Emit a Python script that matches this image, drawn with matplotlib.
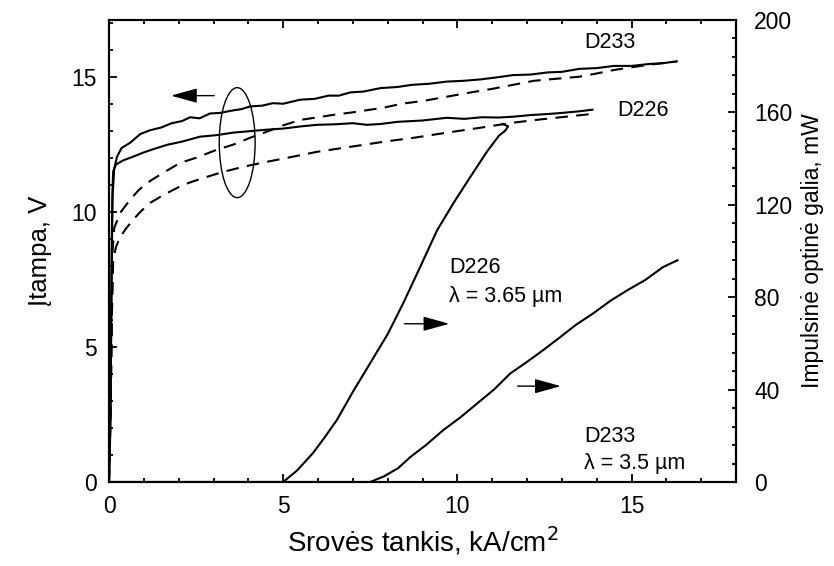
import matplotlib
matplotlib.use('Agg')
import matplotlib.pyplot as plt
from matplotlib.patches import Ellipse
from matplotlib.ticker import MultipleLocator

plt.rcParams['font.family'] = ['Liberation Sans', 'DejaVu Sans']

# U-I kreivės (srovės tankis kA/cm2, įtampa V)
d233_j = [0, 0.04, 0.06, 0.08, 0.1, 0.15, 0.23, 0.36, 0.6, 0.9, 1.18, 1.5, 1.8, 2.1, 2.33, 2.6,
          2.9, 3.19, 3.5, 3.8, 4.05, 4.4, 4.7, 5.0, 5.49, 5.9, 6.3, 6.6, 6.93, 7.3, 7.8, 8.28,
          8.7, 9.2, 9.7, 10.2, 10.66, 11.1, 11.6, 12.1, 12.6, 13.0, 13.5, 14.0, 14.5, 15.0,
          15.5, 15.9, 16.3]
d233_u = [0, 2.0, 5.0, 8.0, 10.5, 11.6, 12.04, 12.36, 12.55, 12.88, 13.02, 13.12, 13.28, 13.36,
          13.5, 13.46, 13.64, 13.66, 13.74, 13.8, 13.9, 13.93, 14.02, 14.0, 14.15, 14.18,
          14.3, 14.3, 14.42, 14.45, 14.58, 14.62, 14.7, 14.74, 14.82, 14.85, 14.9, 14.97,
          15.06, 15.08, 15.16, 15.18, 15.29, 15.32, 15.4, 15.4, 15.47, 15.5, 15.57]

d233_j_pulse = [0, 0.05, 0.08, 0.1, 0.15, 0.32, 0.6, 0.85, 1.09, 1.5, 2.04, 2.5, 3.1, 3.6,
                4.05, 4.5, 5.0, 5.49, 6.0, 6.5, 6.93, 7.4, 7.87, 8.4, 9.0, 9.7, 10.3, 11.0,
                11.6, 12.2, 12.8, 13.5, 14.0, 14.5, 15.0, 15.5, 16.0, 16.3]
d233_u_pulse = [0, 3.0, 6.0, 8.5, 9.4, 9.96, 10.44, 10.8, 11.07, 11.4, 11.81, 12.0, 12.3,
                12.5, 12.74, 12.95, 13.2, 13.4, 13.5, 13.6, 13.67, 13.76, 13.85, 14.0, 14.1,
                14.26, 14.4, 14.55, 14.7, 14.85, 14.92, 15.0, 15.12, 15.25, 15.35, 15.44,
                15.52, 15.56]

d226_j = [0, 0.04, 0.06, 0.08, 0.1, 0.12, 0.2, 0.4, 0.69, 1.0, 1.3, 1.67, 2.1, 2.61, 3.1,
          3.56, 4.0, 4.53, 5.0, 5.5, 5.97, 6.5, 7.0, 7.4, 7.79, 8.28, 9.0, 9.7, 10.2, 10.7,
          11.2, 11.6, 12.1, 12.6, 13.0, 13.5, 13.88]
d226_u = [0, 2.5, 6.0, 9.0, 10.8, 11.5, 11.75, 11.9, 12.04, 12.2, 12.33, 12.48, 12.6, 12.78,
          12.84, 12.93, 12.98, 13.04, 13.08, 13.16, 13.22, 13.24, 13.28, 13.22, 13.25,
          13.33, 13.38, 13.48, 13.44, 13.5, 13.49, 13.52, 13.58, 13.62, 13.66, 13.72, 13.78]

d226_j_pulse = [0, 0.05, 0.08, 0.12, 0.2, 0.32, 0.5, 0.69, 0.9, 1.18, 1.6, 2.13, 2.7, 3.28,
                3.9, 4.53, 5.2, 5.97, 6.9, 7.87, 8.8, 9.7, 10.6, 11.6, 12.6, 13.7, 13.85]
d226_u_pulse = [0, 3.0, 6.0, 8.2, 8.7, 9.07, 9.4, 9.7, 10.0, 10.33, 10.65, 11.0, 11.25,
                11.48, 11.68, 11.85, 12.02, 12.22, 12.4, 12.59, 12.75, 12.93, 13.1, 13.3,
                13.45, 13.6, 13.62]

# L-I kreivės (srovės tankis kA/cm2, galia mW)
li226_j = [0, 5.0, 5.4, 5.86, 6.2, 6.54, 7.0, 7.5, 8.0, 8.45, 8.9, 9.42, 9.9, 10.37, 10.85,
           11.2, 11.37, 11.46, 11.29]
li226_p = [0, 0, 5, 12.6, 19.5, 26.8, 39, 51.5, 64, 77.5, 92, 109, 121, 132, 143, 150, 152,
           154, 155]
li233_j = [0, 7.5, 7.9, 8.3, 8.65, 9.1, 9.6, 10.09, 10.57, 11.05, 11.52, 12.0, 12.5, 12.96,
           13.4, 13.9, 14.4, 14.88, 15.4, 15.9, 16.32]
li233_p = [0, 0, 2.5, 6, 10.8, 16, 22.5, 28, 34, 40, 47, 52, 57.5, 62.8, 68, 73, 78.5, 83,
           87.5, 93, 96]

fig = plt.figure(figsize=(8.34, 5.66), dpi=100)
ax = fig.add_axes([0.1307, 0.1484, 0.7518, 0.8163])
ax2 = ax.twinx()

lw = 1.5
dash = (0, (6, 4))
ax.plot(d233_j, d233_u, color='black', lw=lw)
ax.plot(d233_j_pulse, d233_u_pulse, color='black', lw=lw, linestyle=dash)
ax.plot(d226_j, d226_u, color='black', lw=lw)
ax.plot(d226_j_pulse, d226_u_pulse, color='black', lw=lw, linestyle=dash)

ax2.plot(li226_j, li226_p, color='black', lw=lw)
ax2.plot(li233_j, li233_p, color='black', lw=lw)

ax.set_xlim(0, 18)
ax.set_ylim(0, 17.1)
ax2.set_ylim(0, 200)

ax.xaxis.set_major_locator(MultipleLocator(5))
ax.xaxis.set_minor_locator(MultipleLocator(1))
ax.yaxis.set_major_locator(MultipleLocator(5))
ax.yaxis.set_minor_locator(MultipleLocator(1))
ax2.yaxis.set_major_locator(MultipleLocator(40))
ax2.yaxis.set_minor_locator(MultipleLocator(8))

ax.tick_params(which='both', direction='in', top=True, right=False, width=1.3,
               labelsize=16.5)
ax.tick_params(axis='x', which='major', length=6, pad=9)
ax.tick_params(axis='y', which='major', length=6, pad=9)
ax.tick_params(which='minor', length=3)
ax2.tick_params(which='both', direction='in', width=1.3, labelsize=16.5)
ax2.tick_params(which='major', length=6, pad=13)
ax2.tick_params(which='minor', length=3)
for a in (ax, ax2):
    for s in a.spines.values():
        s.set_linewidth(1.5)

ax.set_xlabel('Srovės tankis, kA/cm$^2$', fontsize=20, labelpad=5)
ax.set_ylabel('Įtampa, V', fontsize=18.5, labelpad=14)
ax2.set_ylabel('Impulsinė optinė galia, mW', fontsize=16.5, labelpad=6)

# ovalas ir rodyklės
ax.add_patch(Ellipse((3.68, 12.56), 1.03, 4.07, fill=False, lw=1.0, color='black'))
arrow = dict(arrowstyle='-|>,head_length=0.9,head_width=0.25', color='black', lw=1.0,
             mutation_scale=18)
ax.annotate('', xy=(1.7, 14.3), xytext=(3.1, 14.3), arrowprops=arrow)
ax2.annotate('', xy=(9.85, 68.5), xytext=(8.4, 68.5), arrowprops=arrow)
ax2.annotate('', xy=(13.05, 41.5), xytext=(11.65, 41.5), arrowprops=arrow)

ax.text(13.65, 16.26, 'D233', fontsize=15.5, va='center')
ax.text(14.6, 13.75, 'D226', fontsize=15.5, va='center')
ax.text(9.77, 7.93, 'D226', fontsize=15.5, va='center')
ax.text(9.77, 6.85, 'λ = 3.65 µm', fontsize=15.5, va='center')
ax.text(13.65, 1.67, 'D233', fontsize=15.5, va='center')
ax.text(13.65, 0.67, 'λ = 3.5 µm', fontsize=15.5, va='center')

fig.savefig('out.png', dpi=100)
